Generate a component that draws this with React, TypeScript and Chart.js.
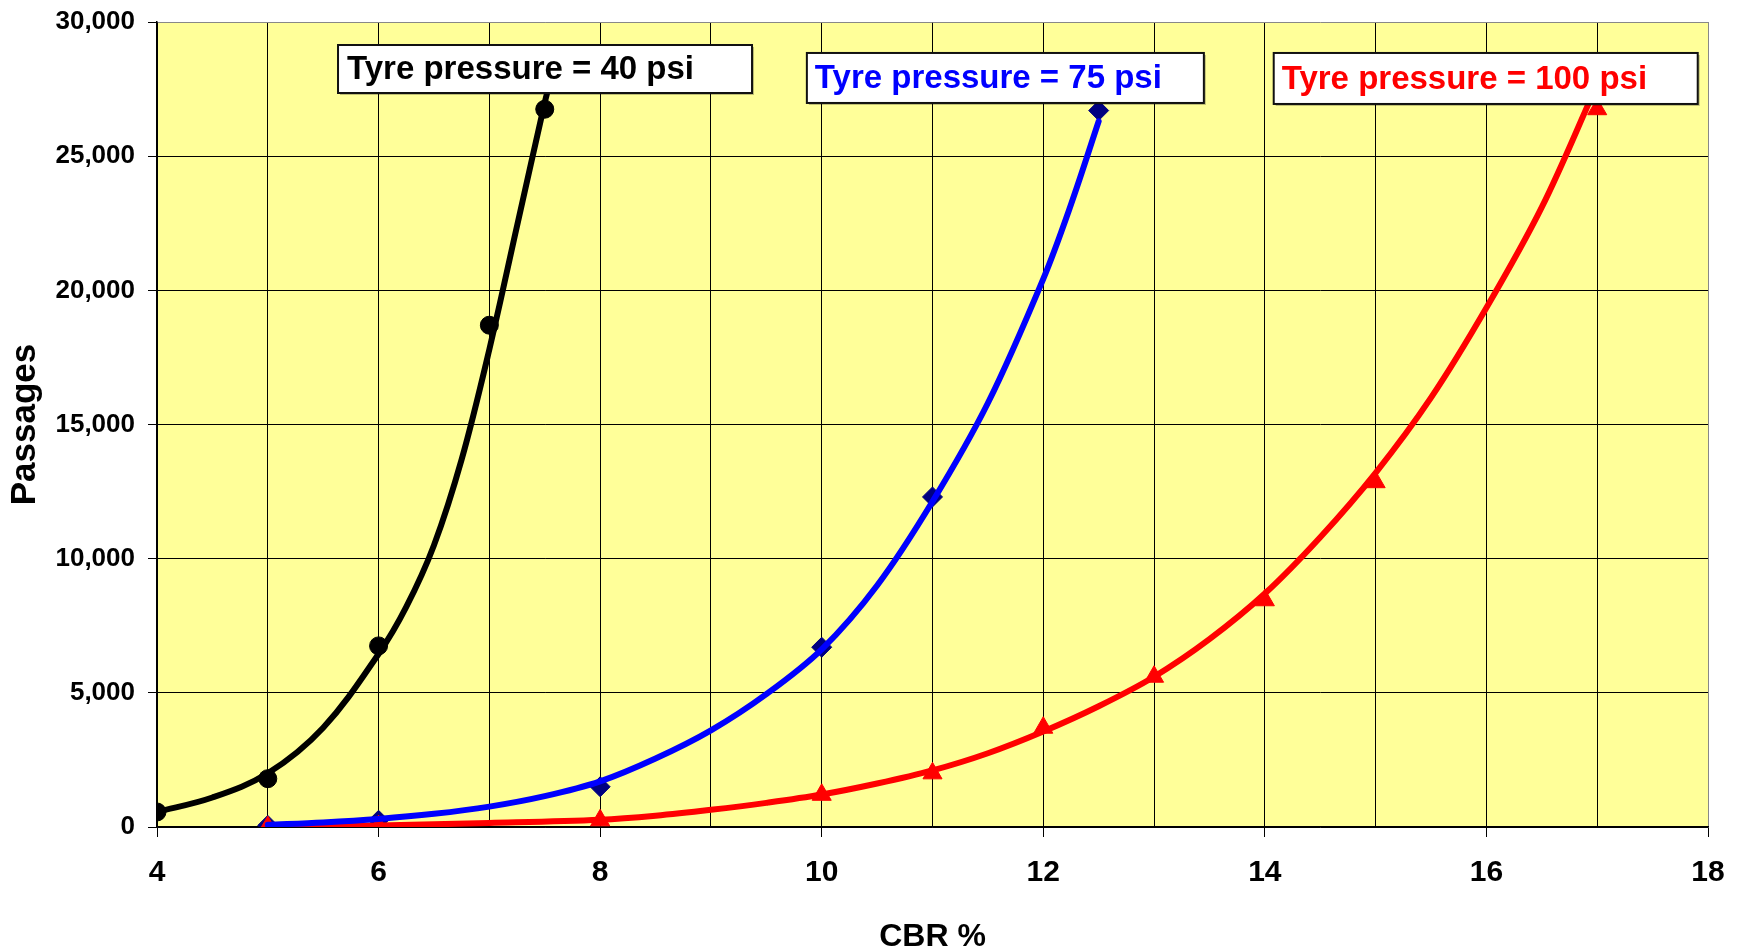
import React, { useEffect, useRef } from "react";
import { Chart, registerables } from "chart.js";

Chart.register(...registerables);

// ---- Data ----
// Smooth curves (CBR %, passages)
const curve40X = [4, 4.5, 5, 5.5, 6, 6.25, 6.5, 6.75, 7, 7.25, 7.5, 7.53];
const curve40Y = [560, 1100, 2000, 3700, 6450, 8200, 10500, 13700, 17800, 22400, 27000, 27500];

const curve75X = [5, 5.5, 6, 6.5, 7, 7.5, 8, 8.5, 9, 9.5, 10, 10.5, 11, 11.5, 12, 12.25, 12.5];
const curve75Y = [80, 170, 300, 490, 760, 1150, 1700, 2550, 3600, 4950, 6620, 9000, 12130, 15800, 20430, 23200, 26300];

const curve100X = [5, 6, 7, 8, 8.5, 9, 9.5, 10, 10.5, 11, 11.5, 12, 12.5, 13, 13.5, 14, 14.5, 15, 15.5, 16, 16.5, 16.97];
const curve100Y = [20, 60, 150, 270, 420, 640, 900, 1210, 1620, 2110, 2750, 3560, 4500, 5600, 7000, 8700, 10800, 13200, 16000, 19350, 23100, 27400];

// Measured points (markers)
const pts40X = [4, 5, 6, 7, 7.5];
const pts40Y = [560, 1800, 6750, 18700, 26750];

const pts75X = [5, 6, 8, 10, 11, 12.5];
const pts75Y = [60, 250, 1500, 6700, 12300, 26700];

const pts100X = [5, 6, 8, 10, 11, 12, 13, 14, 15, 17];
const pts100Y = [0, 30, 250, 1200, 2000, 3700, 5600, 8450, 12850, 26750];

// Labels
const seriesLabels = ["Tyre pressure = 40 psi", "Tyre pressure = 75 psi", "Tyre pressure = 100 psi"];
const xAxisTitle = "CBR %";
const yAxisTitle = "Passages";

const zip = (xs: number[], ys: number[]) => xs.map((x, i) => ({ x, y: ys[i] }));

const FONT = "'Liberation Sans', Arial, Helvetica, sans-serif";

const bgPlugin = {
  id: "plotBg",
  beforeDraw(chart: any) {
    const { ctx, chartArea } = chart;
    if (!chartArea) return;
    ctx.save();
    ctx.fillStyle = "#FFFF99";
    ctx.fillRect(chartArea.left, chartArea.top, chartArea.right - chartArea.left, chartArea.bottom - chartArea.top);
    ctx.restore();
  },
};

const boxLabelPlugin = {
  id: "boxLabels",
  afterDatasetsDraw(chart: any, _args: any, opts: any) {
    const { ctx } = chart;
    const xs = chart.scales.x;
    const ys = chart.scales.y;
    (opts.items || []).forEach((it: any) => {
      const left = xs.getPixelForValue(it.x);
      const top = ys.getPixelForValue(it.y);
      ctx.save();
      ctx.fillStyle = "rgba(0,0,0,0.25)";
      ctx.fillRect(left + 2, top + 2, it.w, it.h);
      ctx.fillStyle = "#FFFFFF";
      ctx.fillRect(left, top, it.w, it.h);
      ctx.lineWidth = 2;
      ctx.strokeStyle = "#111";
      ctx.strokeRect(left, top, it.w, it.h);
      ctx.fillStyle = it.color;
      ctx.font = `bold ${it.size}px ${FONT}`;
      ctx.textBaseline = "middle";
      ctx.textAlign = "left";
      ctx.fillText(it.text, left + it.pad, top + it.h / 2 + 1);
      ctx.restore();
    });
  },
};

export default function App() {
  const ref = useRef<HTMLCanvasElement | null>(null);

  useEffect(() => {
    if (!ref.current) return;
    const curveCommon = { borderWidth: 6, pointRadius: 0, tension: 0.35, order: 1, borderCapStyle: "round", borderJoinStyle: "round" };
    const chart = new Chart(ref.current, {
      type: "line",
      data: {
        datasets: [
          { label: "curve40", data: zip(curve40X, curve40Y), borderColor: "#000000", ...curveCommon },
          { label: "curve75", data: zip(curve75X, curve75Y), borderColor: "#0000FF", ...curveCommon },
          { label: "curve100", data: zip(curve100X, curve100Y), borderColor: "#FF0000", ...curveCommon },
          {
            label: "pts40",
            data: zip(pts40X, pts40Y),
            showLine: false,
            pointStyle: "circle",
            pointRadius: 9,
            backgroundColor: "#000000",
            borderColor: "#000000",
            borderWidth: 1,
            order: 3,
          },
          {
            label: "pts75",
            data: zip(pts75X, pts75Y),
            showLine: false,
            pointStyle: "rectRot",
            pointRadius: 10,
            backgroundColor: "#000080",
            borderColor: "#000080",
            borderWidth: 1,
            order: 3,
          },
          {
            label: "pts100",
            data: zip(pts100X, pts100Y),
            showLine: false,
            pointStyle: "triangle",
            pointRadius: 11,
            backgroundColor: "#FF0000",
            borderColor: "#FF0000",
            borderWidth: 1,
            order: 2,
          },
        ],
      },
      options: {
        animation: false,
        responsive: false,
        maintainAspectRatio: false,
        layout: { padding: { left: 0, top: 22, right: 30, bottom: 0 } },
        plugins: {
          legend: { display: false },
          tooltip: { enabled: false },
          boxLabels: {
            items: [
              { text: seriesLabels[0], color: "#000000", x: 5.634, y: 29143, w: 414, h: 48, pad: 9, size: 33 },
              { text: seriesLabels[1], color: "#0000FF", x: 9.866, y: 28846, w: 397, h: 50, pad: 8, size: 33 },
              { text: seriesLabels[2], color: "#FF0000", x: 14.08, y: 28846, w: 424, h: 51, pad: 8, size: 33 },
            ],
          },
        } as any,
        scales: {
          x: {
            type: "linear",
            min: 4,
            max: 18,
            afterFit: (s: any) => {
              s.height = 123;
              s.paddingLeft = 0;
              s.paddingRight = 0;
            },
            ticks: {
              stepSize: 1,
              autoSkip: false,
              maxRotation: 0,
              padding: 18,
              color: "#000",
              font: { family: FONT, size: 30, weight: "bold" },
              callback: (v: any) => (Number(v) % 2 === 0 ? String(v) : ""),
            },
            grid: {
              color: (c: any) => (c.tick && c.tick.value === 18 ? "#888" : "#000"),
              lineWidth: 1,
              tickLength: 10,
              tickColor: (c: any) => (c.tick && Number(c.tick.value) % 2 === 0 ? "#000" : "rgba(0,0,0,0)"),
            },
            border: { display: true, color: "#000", width: 1.5 },
            title: {
              display: true,
              text: xAxisTitle,
              color: "#000",
              font: { family: FONT, size: 32, weight: "bold" },
              padding: { top: 0, bottom: -6 },
            },
          },
          y: {
            type: "linear",
            min: 0,
            max: 30000,
            afterFit: (s: any) => {
              s.width = 157;
              s.paddingTop = 0;
              s.paddingBottom = 0;
            },
            ticks: {
              stepSize: 5000,
              padding: 13,
              color: "#000",
              font: { family: FONT, size: 26, weight: "bold" },
              callback: (v: any) => Number(v).toLocaleString("en-US"),
            },
            grid: {
              color: (c: any) => (c.tick && c.tick.value === 30000 ? "#888" : "#000"),
              lineWidth: 1,
              tickLength: 9,
              tickColor: "#000",
            },
            border: { display: true, color: "#000", width: 1.5 },
            title: {
              display: true,
              text: yAxisTitle,
              color: "#000",
              font: { family: FONT, size: 35, weight: "bold" },
              padding: { top: 4, bottom: 0 },
            },
          },
        },
      } as any,
      plugins: [bgPlugin, boxLabelPlugin],
    });
    return () => chart.destroy();
  }, []);

  return (
    <div style={{ position: "fixed", left: 0, top: 0, width: 1738, height: 950, background: "#fff" }}>
      <canvas ref={ref} width={1738} height={950} style={{ display: "block", width: 1738, height: 950 }} />
    </div>
  );
}
